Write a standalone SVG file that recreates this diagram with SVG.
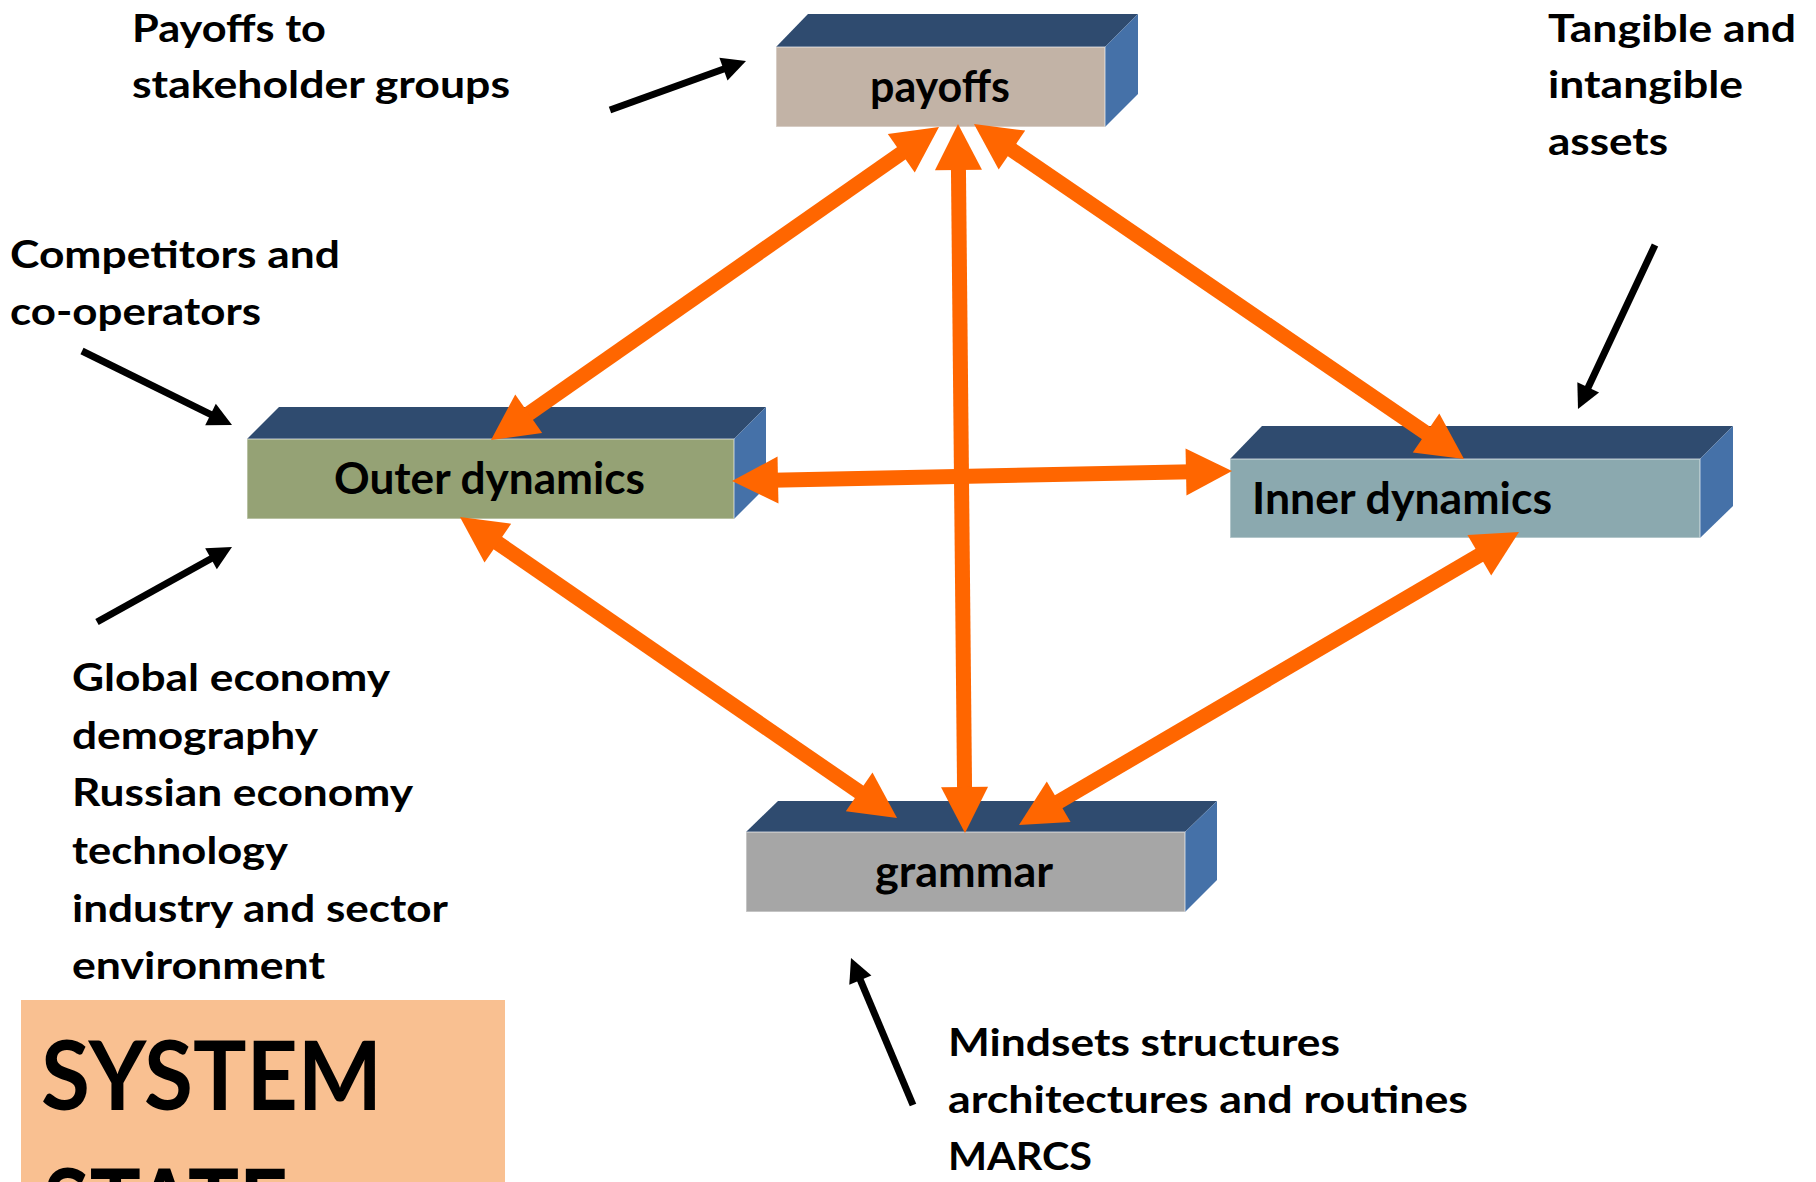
<svg xmlns="http://www.w3.org/2000/svg" width="1816" height="1182" viewBox="0 0 1816 1182">
<defs>
<style>
.t{font-family:Lato,"Open Sans","Liberation Sans",sans-serif;font-weight:700;fill:#000;font-size:38px}
.n{font-size:43px}
.big{font-size:95px}
.top{fill:#2F4B6F}
.side{fill:#4571A8}
.front{stroke:#ffffff;stroke-opacity:0.45;stroke-width:1.5}
.oa{stroke:#FF6600;stroke-width:15;fill:none;marker-start:url(#oh);marker-end:url(#oh)}
.ba{stroke:#000;stroke-width:7;fill:none;marker-end:url(#bh)}
</style>
<marker id="oh" markerUnits="userSpaceOnUse" markerWidth="50" markerHeight="50" viewBox="0 -25 48 50" refX="6" refY="0" orient="auto-start-reverse" overflow="visible">
<path d="M0,-23.5 L46,0 L0,23.5 z" fill="#FF6600"/>
</marker>
<marker id="bh" markerUnits="userSpaceOnUse" markerWidth="26" markerHeight="26" viewBox="0 -13 26 26" refX="4" refY="0" orient="auto" overflow="visible">
<path d="M0,-12 L24,0 L0,12 z" fill="#000"/>
</marker>
</defs>
<rect width="1816" height="1182" fill="#fff"/>

<g id="system-state">
<rect x="21" y="1000" width="484" height="190" fill="#F9C091"/>
<text class="t big" x="41" y="1110" textLength="341" lengthAdjust="spacingAndGlyphs">SYSTEM</text>
<text class="t big" x="43" y="1238" textLength="245" lengthAdjust="spacingAndGlyphs">STATE</text>
</g>

<g id="node-payoffs">
<polygon class="top" points="776,47 808,14 1138,14 1105,47"/>
<polygon class="side" points="1105,47 1138,14 1138,94 1105,127"/>
<rect class="front" x="776" y="47" width="329" height="80" fill="#C2B3A6"/>
<text class="t n" x="870" y="102" textLength="140" lengthAdjust="spacingAndGlyphs">payoffs</text>
</g>

<g id="node-outer">
<polygon class="top" points="247,439 279,407 766,407 734,439"/>
<polygon class="side" points="734,439 766,407 766,487 734,519"/>
<rect class="front" x="247" y="439" width="487" height="80" fill="#95A275"/>
<text class="t n" x="334" y="494" textLength="311" lengthAdjust="spacingAndGlyphs">Outer dynamics</text>
</g>

<g id="node-inner">
<polygon class="top" points="1230,459 1262,426 1733,426 1700,459"/>
<polygon class="side" points="1700,459 1733,426 1733,506 1700,538"/>
<rect class="front" x="1230" y="459" width="470" height="79" fill="#8BA9AF"/>
<text class="t n" x="1252" y="514" textLength="300" lengthAdjust="spacingAndGlyphs">Inner dynamics</text>
</g>

<g id="node-grammar">
<polygon class="top" points="746,832 778,801 1217,801 1185,832"/>
<polygon class="side" points="1185,832 1217,801 1217,880 1185,912"/>
<rect class="front" x="746" y="832" width="439" height="80" fill="#A6A6A6"/>
<text class="t n" x="875" y="887" textLength="178" lengthAdjust="spacingAndGlyphs">grammar</text>
</g>

<g id="label-payoffs">
<text class="t" x="132" y="42" textLength="194" lengthAdjust="spacingAndGlyphs">Payoffs to</text>
<text class="t" x="132" y="98" textLength="378" lengthAdjust="spacingAndGlyphs">stakeholder groups</text>
</g>
<g id="label-competitors">
<text class="t" x="10" y="268" textLength="330" lengthAdjust="spacingAndGlyphs">Competitors and</text>
<text class="t" x="10" y="325" textLength="251" lengthAdjust="spacingAndGlyphs">co-operators</text>
</g>
<g id="label-tangible">
<text class="t" x="1548" y="42" textLength="248" lengthAdjust="spacingAndGlyphs">Tangible and</text>
<text class="t" x="1548" y="98" textLength="195" lengthAdjust="spacingAndGlyphs">intangible</text>
<text class="t" x="1548" y="155" textLength="120" lengthAdjust="spacingAndGlyphs">assets</text>
</g>
<g id="label-global">
<text class="t" x="72" y="691" textLength="318" lengthAdjust="spacingAndGlyphs">Global economy</text>
<text class="t" x="72" y="749" textLength="246" lengthAdjust="spacingAndGlyphs">demography</text>
<text class="t" x="72" y="806" textLength="341" lengthAdjust="spacingAndGlyphs">Russian economy</text>
<text class="t" x="72" y="864" textLength="216" lengthAdjust="spacingAndGlyphs">technology</text>
<text class="t" x="72" y="922" textLength="376" lengthAdjust="spacingAndGlyphs">industry and sector</text>
<text class="t" x="72" y="979" textLength="253" lengthAdjust="spacingAndGlyphs">environment</text>
</g>
<g id="label-mindsets">
<text class="t" x="948" y="1056" textLength="392" lengthAdjust="spacingAndGlyphs">Mindsets structures</text>
<text class="t" x="948" y="1113" textLength="520" lengthAdjust="spacingAndGlyphs">architectures and routines</text>
<text class="t" x="948" y="1170" textLength="144" lengthAdjust="spacingAndGlyphs">MARCS</text>
</g>

<g id="connectors">
<line class="oa" x1="906.2" y1="149.9" x2="523.8" y2="417.1"/>
<line class="oa" x1="958.4" y1="164" x2="964.6" y2="793"/>
<line class="oa" x1="1007" y1="146.6" x2="1431" y2="436.4"/>
<line class="oa" x1="772" y1="480.2" x2="1192" y2="471.8"/>
<line class="oa" x1="492.9" y1="539.7" x2="864.1" y2="795.3"/>
<line class="oa" x1="1484.5" y1="552.2" x2="1053.5" y2="804.8"/>
<line class="ba" x1="610" y1="110" x2="727.2" y2="67.8"/>
<line class="ba" x1="82" y1="351" x2="214.1" y2="416.2"/>
<line class="ba" x1="97" y1="622" x2="214.5" y2="556.7"/>
<line class="ba" x1="1655" y1="245" x2="1586.5" y2="390.9"/>
<line class="ba" x1="913" y1="1105" x2="858.8" y2="976.4"/>
</g>
</svg>
